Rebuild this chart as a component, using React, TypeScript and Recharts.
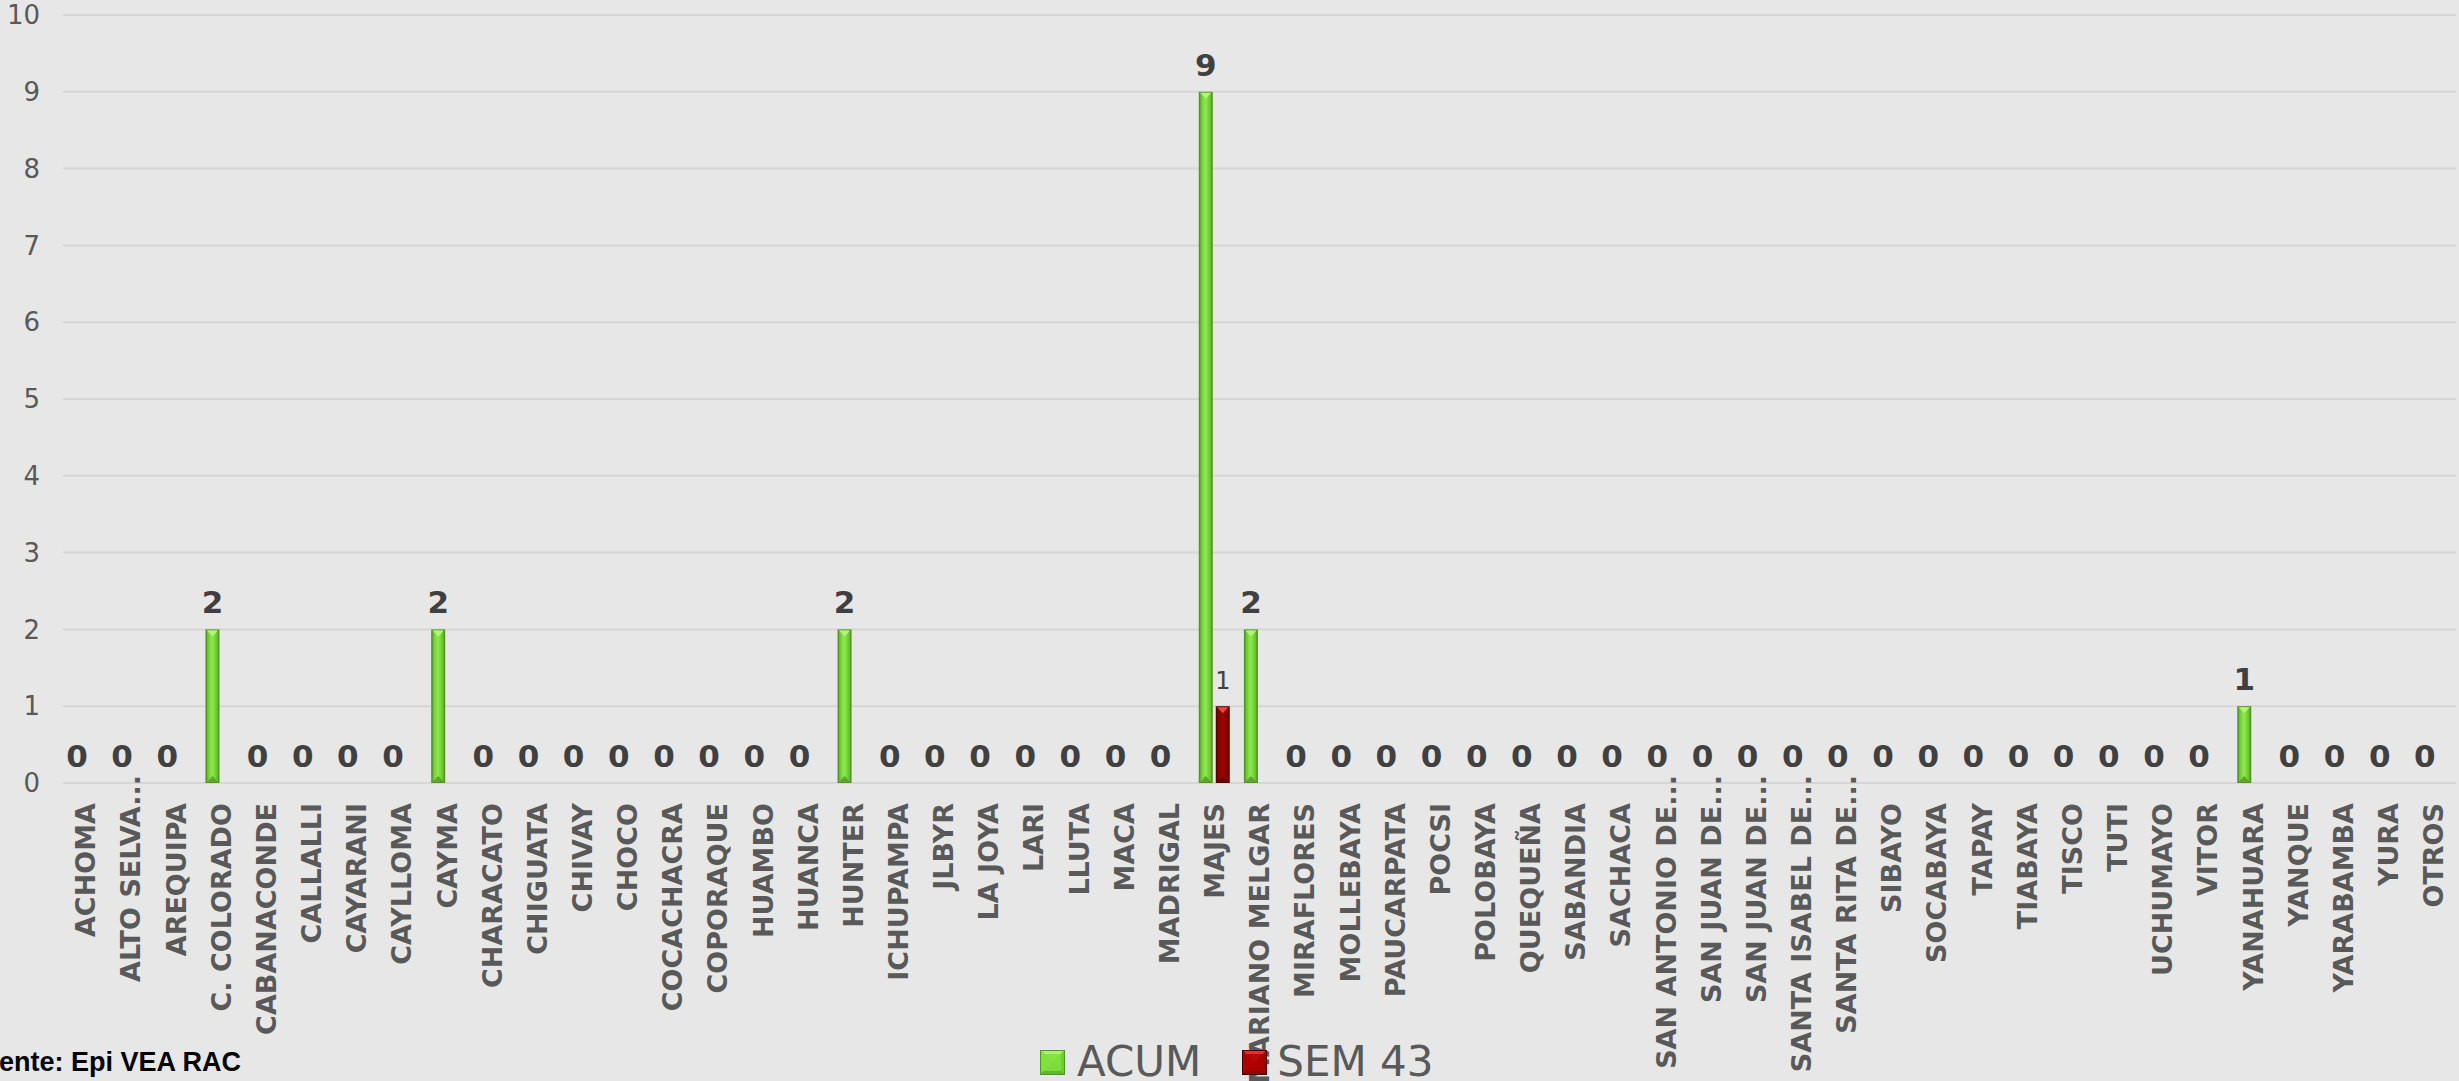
import React from 'react';
import { BarChart, Bar, XAxis, YAxis, CartesianGrid, Legend, LabelList } from 'recharts';

const categories = [
  'ACHOMA', 'ALTO SELVA...', 'AREQUIPA', 'C. COLORADO', 'CABANACONDE', 'CALLALLI', 'CAYARANI', 'CAYLLOMA',
  'CAYMA', 'CHARACATO', 'CHIGUATA', 'CHIVAY', 'CHOCO', 'COCACHACRA', 'COPORAQUE', 'HUAMBO', 'HUANCA',
  'HUNTER', 'ICHUPAMPA', 'JLBYR', 'LA JOYA', 'LARI', 'LLUTA', 'MACA', 'MADRIGAL', 'MAJES',
  'MARIANO MELGAR', 'MIRAFLORES', 'MOLLEBAYA', 'PAUCARPATA', 'POCSI', 'POLOBAYA', 'QUEQUEÑA', 'SABANDIA',
  'SACHACA', 'SAN ANTONIO DE...', 'SAN JUAN DE...', 'SAN JUAN DE...', 'SANTA ISABEL DE...', 'SANTA RITA DE...',
  'SIBAYO', 'SOCABAYA', 'TAPAY', 'TIABAYA', 'TISCO', 'TUTI', 'UCHUMAYO', 'VITOR', 'YANAHUARA', 'YANQUE',
  'YARABAMBA', 'YURA', 'OTROS',
];

const acumValues = [
  0, 0, 0, 2, 0, 0, 0, 0,
  2, 0, 0, 0, 0, 0, 0, 0, 0,
  2, 0, 0, 0, 0, 0, 0, 0, 9,
  2, 0, 0, 0, 0, 0, 0, 0,
  0, 0, 0, 0, 0, 0,
  0, 0, 0, 0, 0, 0, 0, 0, 1, 0,
  0, 0, 0,
];

const semValues = [
  0, 0, 0, 0, 0, 0, 0, 0,
  0, 0, 0, 0, 0, 0, 0, 0, 0,
  0, 0, 0, 0, 0, 0, 0, 0, 1,
  0, 0, 0, 0, 0, 0, 0, 0,
  0, 0, 0, 0, 0, 0,
  0, 0, 0, 0, 0, 0, 0, 0, 0, 0,
  0, 0, 0,
];

const yTicks = [0, 1, 2, 3, 4, 5, 6, 7, 8, 9, 10];
const seriesNames = ['ACUM', 'SEM 43'];
const sourceText = 'Fuente: Epi VEA RAC';

const data = categories.map((name, i) => ({ key: `${i}`, name, acum: acumValues[i], sem: semValues[i] }));

const FONT = '"DejaVu Sans", Verdana, sans-serif';

const makeShape = (gradId: string, edge: string, light: string, dark: string) => (props: any) => {
  const { x, y, width, height } = props;
  if (!height || height <= 0) return null;
  const tri = 6;
  return (
    <g>
      <rect x={x} y={y} width={width} height={height} fill={edge} />
      <rect x={x + 1.5} y={y + 1} width={width - 3} height={height - 2} fill={`url(#${gradId})`} />
      <polygon
        points={`${x + 1.5},${y + 1} ${x + width - 1.5},${y + 1} ${x + width / 2},${y + 1 + tri}`}
        fill={light}
      />
      <polygon
        points={`${x + 1.5},${y + height - 1} ${x + width - 1.5},${y + height - 1} ${x + width / 2},${y + height - 1 - tri}`}
        fill={dark}
      />
    </g>
  );
};

const greenShape = makeShape('gGreen', '#4f9622', '#b2f47a', '#5aa82a');
const redShape = makeShape('gRed', '#5a0000', '#e84848', '#6a0000');

const XTick = (props: any) => {
  const { x, y, payload } = props;
  const label = categories[Number(payload.value)];
  const shift = label.endsWith('...') ? -8 : 20;
  return (
    <text
      transform={`translate(${x},${y + shift}) rotate(-90)`}
      textAnchor="end"
      dy="0.36em"
      fill="#595959"
      fontFamily={FONT}
      fontWeight="bold"
      fontSize={27}
    >
      {label}
    </text>
  );
};

const AcumLabel = (props: any) => {
  const { x, y, width, value } = props;
  return (
    <text x={x + width / 2} y={y - 16} textAnchor="middle" fill="#404040" fontFamily={FONT} fontWeight="bold" fontSize={31}>
      {value}
    </text>
  );
};

const SemLabel = (props: any) => {
  const { x, y, width, value } = props;
  if (!value) return null;
  return (
    <text x={x + width / 2} y={y - 17} textAnchor="middle" fill="#404040" fontFamily={FONT} fontSize={24}>
      {value}
    </text>
  );
};

const LegendSquare = ({ light, mid, right, dark, edge }: any) => (
  <svg width={25} height={25} style={{ display: 'block' }}>
    <rect x={0} y={0} width={25} height={25} fill={edge} />
    <polygon points="1,1 24,1 12.5,12.5" fill={light} />
    <polygon points="1,1 1,24 12.5,12.5" fill={mid} />
    <polygon points="24,1 24,24 12.5,12.5" fill={right} />
    <polygon points="1,24 24,24 12.5,12.5" fill={dark} />
    <rect x={4} y={4} width={17} height={17} fill={mid} opacity={0.85} />
  </svg>
);

const renderLegend = () => (
  <div style={{ display: 'flex', alignItems: 'center', fontFamily: FONT, fontSize: 42, color: '#595959', lineHeight: '36px', height: 36 }}>
    <LegendSquare edge="#4f9622" light="#a8f070" mid="#80e03c" right="#70cc32" dark="#62b82c" />
    <span style={{ marginLeft: 12, marginRight: 41 }}>{seriesNames[0]}</span>
    <LegendSquare edge="#4a0000" light="#e03030" mid="#b00000" right="#a00000" dark="#8a0000" />
    <span style={{ marginLeft: 10 }}>{seriesNames[1]}</span>
  </div>
);

export default function App() {
  return (
    <div style={{ position: 'fixed', left: 0, top: 0, width: 2459, height: 1081, background: '#e7e7e7', overflow: 'hidden' }}>
      <BarChart
        width={2459}
        height={1081}
        data={data}
        margin={{ top: 15, right: 3, bottom: 0, left: 0 }}
        barSize={14}
        barGap={3}
      >
        <defs>
          <linearGradient id="gGreen" x1="0" y1="0" x2="1" y2="0">
            <stop offset="0%" stopColor="#66bb30" />
            <stop offset="35%" stopColor="#86e543" />
            <stop offset="55%" stopColor="#88e846" />
            <stop offset="100%" stopColor="#64b52e" />
          </linearGradient>
          <linearGradient id="gRed" x1="0" y1="0" x2="1" y2="0">
            <stop offset="0%" stopColor="#820000" />
            <stop offset="45%" stopColor="#a20000" />
            <stop offset="100%" stopColor="#7a0000" />
          </linearGradient>
        </defs>
        <CartesianGrid vertical={false} stroke="#d6d6d6" strokeWidth={2} />
        <XAxis
          dataKey="key"
          interval={0}
          axisLine={false}
          tickLine={false}
          tickSize={0}
          tickMargin={0}
          height={298}
          tick={<XTick />}
        />
        <YAxis
          domain={[0, 10]}
          ticks={yTicks}
          width={63}
          axisLine={false}
          tickLine={false}
          tickSize={0}
          tickMargin={23}
          tick={{ fill: '#595959', fontSize: 26, fontFamily: FONT }}
        />
        <Legend
          layout="horizontal"
          verticalAlign="middle"
          align="center"
          content={renderLegend}
          wrapperStyle={{ left: 1040, top: 1044, width: 460, height: 36 }}
        />
        <Bar dataKey="acum" name={seriesNames[0]} fill="#7ee03a" shape={greenShape} isAnimationActive={false}>
          <LabelList dataKey="acum" content={<AcumLabel />} />
        </Bar>
        <Bar dataKey="sem" name={seriesNames[1]} fill="#a00000" shape={redShape} isAnimationActive={false}>
          <LabelList dataKey="sem" content={<SemLabel />} />
        </Bar>
      </BarChart>
      <div
        style={{
          position: 'absolute',
          left: -34,
          top: 1045,
          fontFamily: '"Liberation Sans", Arial, sans-serif',
          fontWeight: 'bold',
          fontSize: 27,
          color: '#000',
          whiteSpace: 'nowrap',
          lineHeight: '34px',
        }}
      >
        {sourceText}
      </div>
    </div>
  );
}
